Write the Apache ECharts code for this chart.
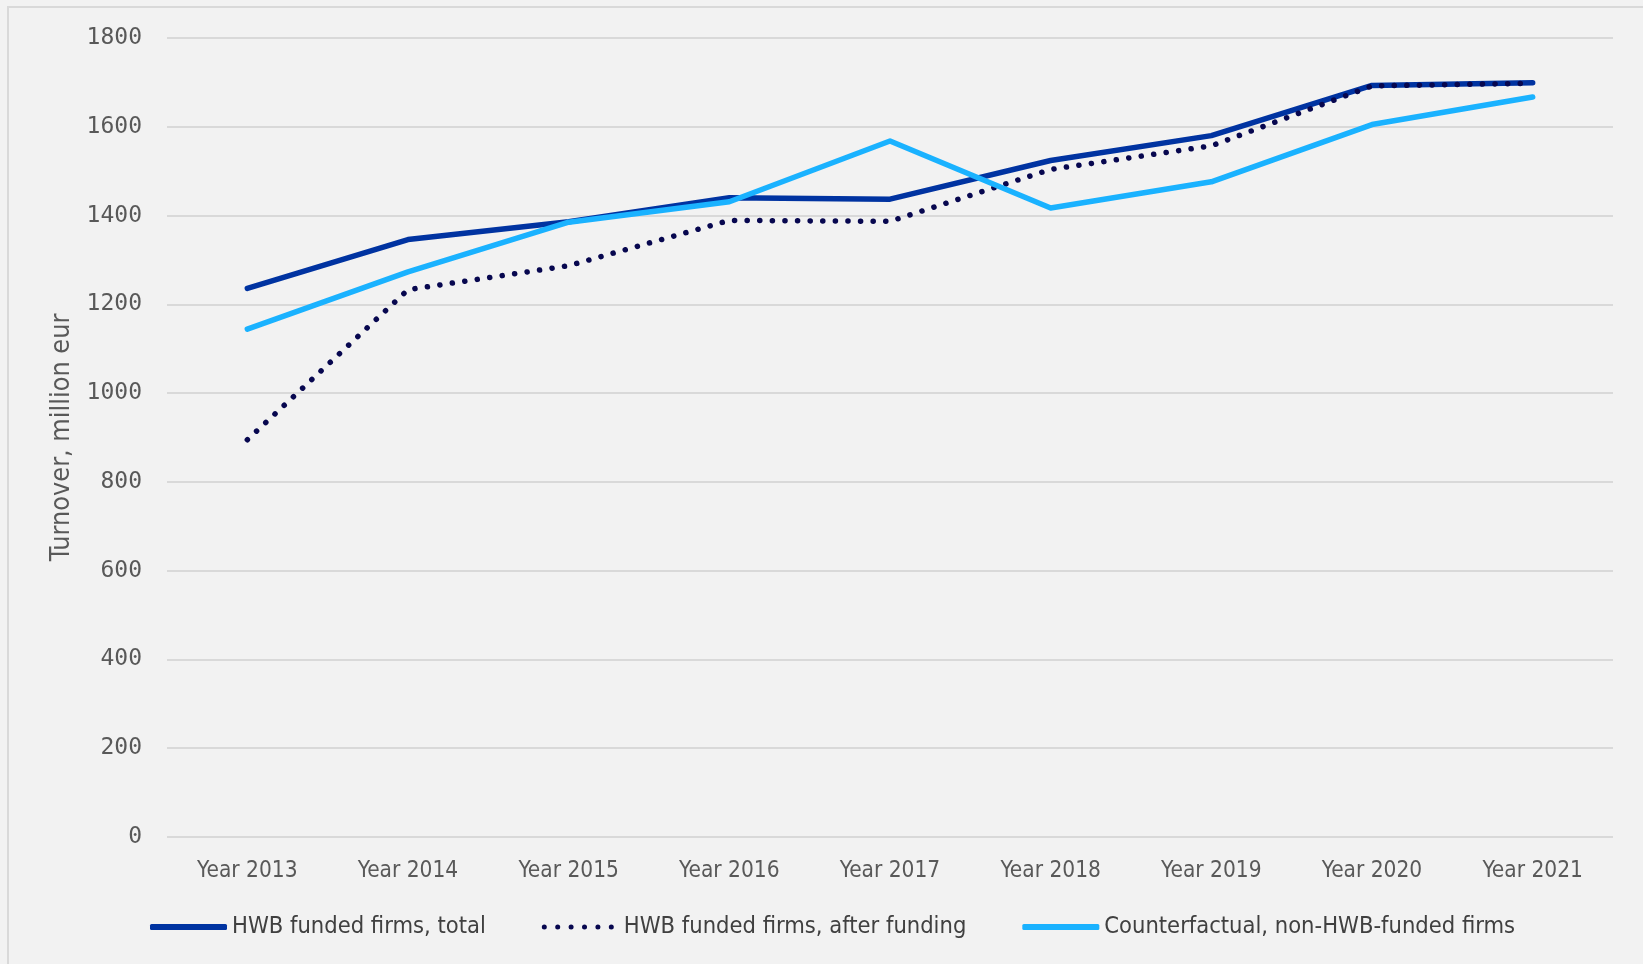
<!DOCTYPE html>
<html>
<head>
<meta charset="utf-8">
<title>Turnover of HWB funded firms</title>
<script src="https://cdn.jsdelivr.net/npm/echarts@6/dist/echarts.min.js"></script>
<style>
  html, body { margin: 0; padding: 0; background: #f2f2f2; }
  #chart { width: 1643px; height: 964px; }
</style>
</head>
<body>
<div id="chart"></div>
<script>
// Turnover (million eur) by year
const years = ['Year 2013', 'Year 2014', 'Year 2015', 'Year 2016', 'Year 2017',
               'Year 2018', 'Year 2019', 'Year 2020', 'Year 2021'];
const fundedTotal = [1236, 1346, 1386, 1440, 1437, 1524, 1580, 1693, 1699];
const fundedAfter = [895, 1233, 1287, 1389, 1387, 1504, 1557, 1692, 1698];
const counterfactual = [1144, 1273, 1385, 1431, 1568, 1417, 1476, 1605, 1667];
const seriesNames = ['HWB funded firms, total', 'HWB funded firms, after funding',
                     'Counterfactual, non-HWB-funded firms'];
const yMin = 0, yMax = 1800, yStep = 200;

const sansFont = '"DejaVu Sans Condensed", "Liberation Sans", sans-serif';
const monoFont = '"DejaVu Sans Mono", "Liberation Mono", monospace';

// Legend swatch for the dotted series: a row of six dots (the outer moveTo
// points pin the bounding box so the dots keep their round shape).
function dotRowIcon() {
  let d = 'M0,0 M77,6 ';
  for (let i = 0; i < 6; i++) {
    const cx = 2.5 + i * 13.4;
    d += 'M' + (cx - 2.5) + ',3 a2.5,2.5 0 1,0 5,0 a2.5,2.5 0 1,0 -5,0 Z ';
  }
  return 'path://' + d;
}

const chart = echarts.init(document.getElementById('chart'), null, { renderer: 'canvas' });

chart.setOption({
  backgroundColor: '#f2f2f2',
  animation: false,
  graphic: [{
    type: 'rect',
    shape: { x: 8, y: 7, width: 1700, height: 1000 },
    style: { fill: 'none', stroke: '#d9d9d9', lineWidth: 2 },
    silent: true
  }],
  grid: { left: 167, right: 30, top: 38, bottom: 127, containLabel: false },
  legend: {
    left: 145,
    top: 910,
    itemWidth: 77,
    itemHeight: 6,
    itemGap: 56,
    textStyle: { fontFamily: sansFont, fontSize: 23.5, color: '#404040' },
    data: [
      { name: seriesNames[0], icon: 'roundRect' },
      { name: seriesNames[1], icon: dotRowIcon() },
      { name: seriesNames[2], icon: 'roundRect' }
    ]
  },
  xAxis: {
    type: 'category',
    data: years,
    boundaryGap: true,
    axisLine: { show: false },
    axisTick: { show: false },
    axisLabel: { fontFamily: sansFont, fontSize: 22.5, color: '#595959', margin: 23 }
  },
  yAxis: {
    type: 'value',
    min: yMin,
    max: yMax,
    interval: yStep,
    name: 'Turnover, million eur',
    nameLocation: 'middle',
    nameGap: 75,
    nameTextStyle: { fontFamily: sansFont, fontSize: 26.8, color: '#595959' },
    axisLine: { show: false },
    axisTick: { show: false },
    axisLabel: {
      fontFamily: monoFont, fontSize: 23, color: '#595959', margin: 25,
      formatter: function (v) { return String(v); }
    },
    splitLine: { lineStyle: { color: '#d9d9d9', width: 2 } }
  },
  series: [
    {
      name: seriesNames[0],
      type: 'line',
      data: fundedTotal,
      showSymbol: false,
      symbol: 'none',
      color: '#0033a1',
      lineStyle: { width: 5.5, color: '#0033a1', cap: 'round', join: 'round' }
    },
    {
      name: seriesNames[1],
      type: 'line',
      data: fundedAfter,
      showSymbol: false,
      symbol: 'none',
      color: '#07074f',
      lineStyle: { width: 5.5, color: '#07074f', type: [0.1, 12.5], cap: 'round', join: 'round' }
    },
    {
      name: seriesNames[2],
      type: 'line',
      data: counterfactual,
      showSymbol: false,
      symbol: 'none',
      color: '#1ab2ff',
      lineStyle: { width: 5.5, color: '#1ab2ff', cap: 'round', join: 'round' }
    }
  ]
});
</script>
</body>
</html>
